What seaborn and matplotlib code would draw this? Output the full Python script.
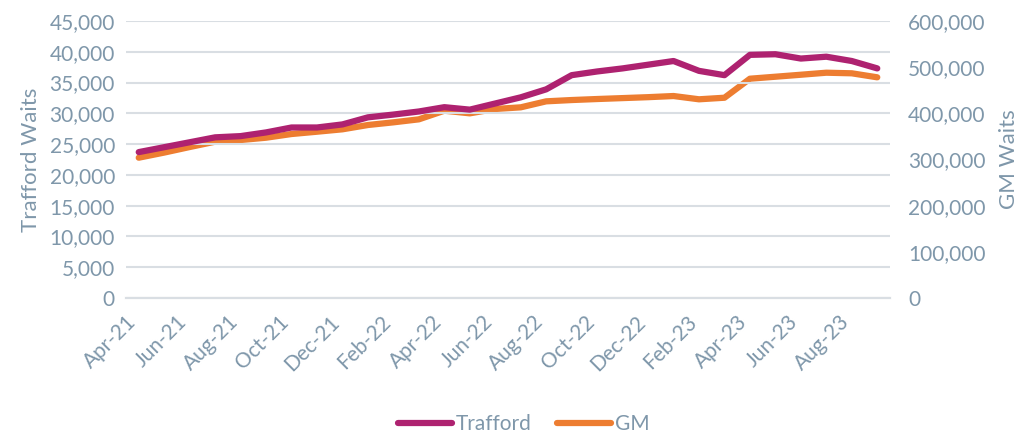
import seaborn as sns
import matplotlib.pyplot as plt
import pandas as pd
import numpy as np
from matplotlib.ticker import FuncFormatter, MultipleLocator

# Monthly waits, Apr-21 to Sep-23
months = pd.date_range("2021-04-01", "2023-09-01", freq="MS").strftime("%b-%y").tolist()
trafford = [23700, 24500, 25300, 26100, 26300, 26900, 27700, 27700, 28200, 29350,
            29800, 30300, 31000, 30600, 31600, 32600, 33900, 36200, 36800, 37300,
            37900, 38500, 36900, 36200, 39500, 39600, 38900, 39200, 38500, 37300]
gm = [303900, 315000, 327000, 338600, 342200, 347200, 355200, 360200, 365400, 374700,
      380500, 387000, 405700, 400000, 409400, 413000, 426000, 428800, 431000, 433000,
      435000, 437500, 430400, 433800, 475000, 479300, 483600, 488000, 486700, 478000]

df = pd.DataFrame({"idx": np.arange(len(months)), "month": months,
                   "Trafford": trafford, "GM": gm})

sns.set_style("white")
plt.rcParams["font.family"] = ["Lato", "DejaVu Sans"]
txt = "#7F97AA"
grid = "#D9DEE3"
c_traf = "#AE2270"
c_gm = "#ED7D31"

fig, ax = plt.subplots(figsize=(10.31, 4.34), dpi=100)
fig.subplots_adjust(left=126/1031, right=890/1031, top=1-21/434, bottom=1-298/434)
ax2 = ax.twinx()

sns.lineplot(data=df, x="idx", y="Trafford", ax=ax, color=c_traf, linewidth=4.5,
             label="Trafford", legend=False)
sns.lineplot(data=df, x="idx", y="GM", ax=ax2, color=c_gm, linewidth=4.5,
             label="GM", legend=False)
ax.set_zorder(ax2.get_zorder() + 1)
ax.patch.set_visible(False)

ax.set_xlim(-0.5, len(months) - 0.5)
ax.set_ylim(0, 45000)
ax2.set_ylim(0, 600000)
ax.yaxis.set_major_locator(MultipleLocator(5000))
ax2.yaxis.set_major_locator(MultipleLocator(100000))
fmt = FuncFormatter(lambda v, p: f"{int(v):,}")
ax.yaxis.set_major_formatter(fmt)
ax2.yaxis.set_major_formatter(fmt)

ax2.grid(False)
ax.grid(axis="y", color=grid, linewidth=1.5)
ax.grid(axis="x", visible=False)

tick_pos = np.arange(-0.5, len(months) - 0.5, 2)
ax.set_xticks(tick_pos)
ax.set_xticklabels(months[::2], rotation=45, ha="right", rotation_mode="anchor",
                   fontsize=15, color=txt)
ax.tick_params(axis="x", length=6, color=grid, width=1.5, pad=4)
ax.tick_params(axis="y", length=0, labelsize=15, labelcolor=txt, pad=8)
ax2.tick_params(axis="y", length=0, labelsize=15, labelcolor=txt, pad=13)

for a in (ax, ax2):
    for s in ("top", "left", "right"):
        a.spines[s].set_visible(False)
    a.spines["bottom"].set_color(grid)
    a.spines["bottom"].set_linewidth(1.5)

ax.set_xlabel("")
ax.set_ylabel("Trafford Waits", fontsize=16, color=txt, labelpad=6)
ax2.set_ylabel("GM Waits", fontsize=16, color=txt, labelpad=10)

h1, l1 = ax.get_legend_handles_labels()
h2, l2 = ax2.get_legend_handles_labels()
fig.legend(h1 + h2, l1 + l2, loc="center", bbox_to_anchor=(0.508, 1-424/434),
           ncol=2, frameon=False, fontsize=15, labelcolor=txt,
           handlelength=2.6, columnspacing=1.2, handletextpad=0.2)

plt.savefig("out.png", dpi=100)
